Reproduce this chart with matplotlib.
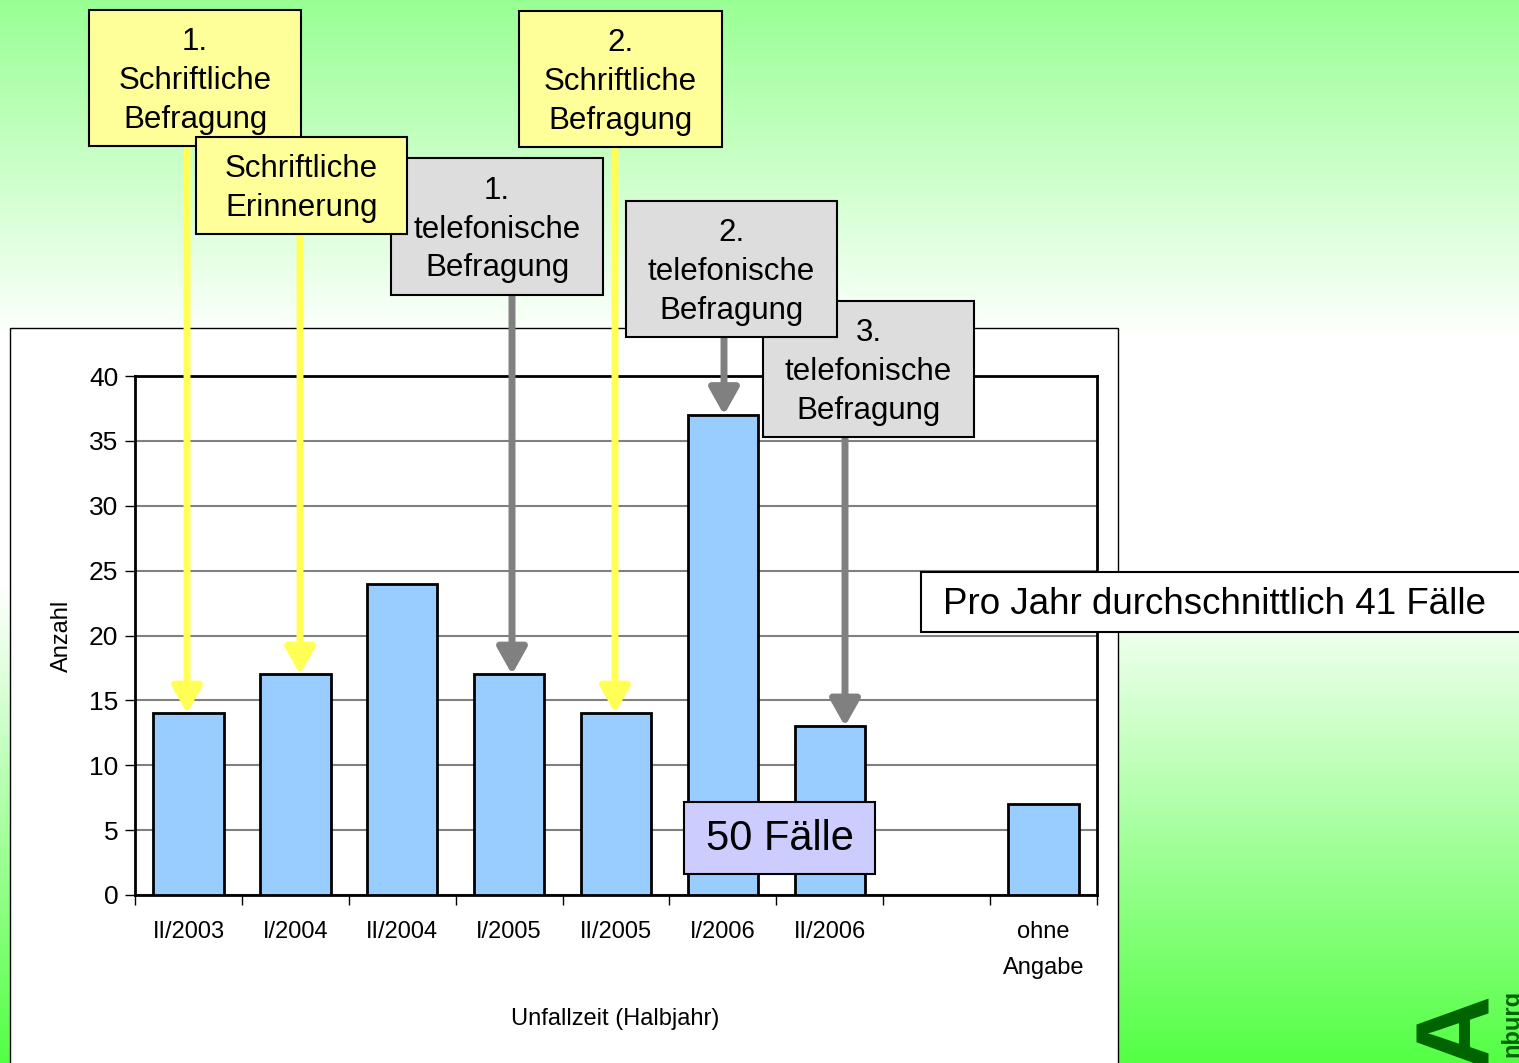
import numpy as np
from matplotlib import pyplot as plt
from matplotlib.patches import Rectangle

plt.rcParams['font.family'] = ['Liberation Sans', 'DejaVu Sans']

# Data
categories = ['II/2003', 'I/2004', 'II/2004', 'I/2005', 'II/2005',
              'I/2006', 'II/2006', '', 'ohne\nAngabe']
cases = [14, 17, 24, 17, 14, 37, 13, 0, 7]
y_ticks = [0, 5, 10, 15, 20, 25, 30, 35, 40]

# Annotation boxes: text and the bar each arrow points at
box_texts = ['1.\nSchriftliche\nBefragung', 'Schriftliche\nErinnerung',
             '1.\ntelefonische\nBefragung', '2.\nSchriftliche\nBefragung',
             '2.\ntelefonische\nBefragung', '3.\ntelefonische\nBefragung']
box_targets = [0, 1, 3, 4, 5, 6]

W, H = 1519, 1063
fig = plt.figure(figsize=(W / 100, H / 100), dpi=100)

# Background gradient (green - white - green)
bg = fig.add_axes([0, 0, 1, 1], zorder=0)
t = np.linspace(0, 1, 400)
stops = [0.0, 0.32, 0.55, 1.0]
r = np.interp(t, stops, [0.60, 1.0, 1.0, 0.33])
g = np.interp(t, stops, [1.0, 1.0, 1.0, 1.0])
b = np.interp(t, stops, [0.58, 1.0, 1.0, 0.27])
grad = np.stack([r, g, b], axis=1)[:, None, :]
bg.imshow(grad, aspect='auto', extent=[0, W, H, 0])
bg.set_xlim(0, W)
bg.set_ylim(H, 0)
bg.axis('off')

# White chart panel
bg.add_patch(Rectangle((10, 328), 1108, 760, facecolor='white',
                       edgecolor='black', lw=1))

# Logo fragment (cut off at the bottom edge, as in the slide)
bg.text(1458, 990, 'GA', rotation=90, ha='center', va='top',
        fontsize=75, fontweight='bold', color='#006400')
bg.text(1512, 990, 'nburg', rotation=90, ha='center', va='top',
        fontsize=17, fontweight='bold', color='#006400')

# Main chart
ax = fig.add_axes([135 / W, (H - 895) / H, (1097 - 135) / W, (895 - 376) / H],
                  zorder=1)
x = np.arange(len(categories))
shown = [i for i, v in enumerate(cases) if v > 0]
ax.bar([x[i] for i in shown], [cases[i] for i in shown], width=0.66,
       color='#99ccff', edgecolor='black', lw=2, zorder=3)

ax.set_xlim(-0.5, len(categories) - 0.5)
ax.set_ylim(0, 40)
ax.set_yticks(y_ticks)
ax.tick_params(axis='y', labelsize=19, length=7, width=1, pad=5)
ax.yaxis.grid(True, color='#808080', lw=1.5)
ax.set_axisbelow(True)

ax.set_xticks(x)
ax.set_xticklabels(categories, fontsize=17)
ax.tick_params(axis='x', which='major', length=0, pad=19)
ax.set_xticks(np.arange(-0.5, len(categories)), minor=True)
ax.tick_params(axis='x', which='minor', length=7, width=1)
ax.get_xticklabels()[-1].set_linespacing(1.8)
for s in ax.spines.values():
    s.set_linewidth(2)

ax.set_ylabel('Anzahl', fontsize=17)
ax.yaxis.set_label_coords(-0.065, 0.5)
ax.set_xlabel('Unfallzeit (Halbjahr)', fontsize=17)
ax.xaxis.set_label_coords(0.499, -0.218)

# Overlay for boxes and arrows, in image pixel coordinates
top = fig.add_axes([0, 0, 1, 1], zorder=2)
top.set_xlim(0, W)
top.set_ylim(H, 0)
top.axis('off')
top.patch.set_alpha(0)

boxes = [(89, 10, 301, 146), (196, 137, 407, 234), (391, 158, 603, 295),
         (519, 11, 722, 147), (626, 201, 837, 337), (763, 301, 974, 437)]
box_z = [4, 6, 5, 4, 7, 6]
box_colors = ['#ffff99', '#ffff99', '#dddddd', '#ffff99', '#dddddd', '#dddddd']
arrow_colors = ['#ffff55', '#ffff55', '#808080', '#ffff55', '#808080', '#808080']
arrow_x = [187, 300, 512, 615, 724, 845]

bar_px = (1097 - 135) / len(categories)
for i in range(len(box_texts)):
    x0, y0, x1, y1 = boxes[i]
    k = box_targets[i]
    xd = (arrow_x[i] - 135) / bar_px - 0.5
    top.annotate('', xy=(xd, cases[k]), xycoords=ax.transData,
                 xytext=(arrow_x[i], y1), textcoords='data',
                 arrowprops=dict(arrowstyle='-|>,head_length=0.8,head_width=0.45',
                                 color=arrow_colors[i], lw=5,
                                 mutation_scale=20, shrinkA=0, shrinkB=0),
                 zorder=2)

for i in range(len(box_texts)):
    x0, y0, x1, y1 = boxes[i]
    top.add_patch(Rectangle((x0, y0), x1 - x0, y1 - y0,
                            facecolor=box_colors[i], edgecolor='black',
                            lw=1.5, zorder=box_z[i]))
    top.text((x0 + x1) / 2, (y0 + y1) / 2 + 3, box_texts[i], ha='center',
             va='center', fontsize=22.5, linespacing=1.38, zorder=box_z[i])

# Average note
top.add_patch(Rectangle((921, 572), 640, 60, facecolor='white',
                        edgecolor='black', lw=1.5, zorder=12))
top.text(943, 604, 'Pro Jahr durchschnittlich 41 Fälle', ha='left',
         va='center', fontsize=26.5, zorder=13)

# Total cases
top.add_patch(Rectangle((684, 802), 191, 72, facecolor='#ccccff',
                        edgecolor='black', lw=1.5, zorder=12))
top.text(779.5, 839, '50 Fälle', ha='center', va='center', fontsize=30,
         zorder=13)

fig.savefig('out.png', dpi=100)
